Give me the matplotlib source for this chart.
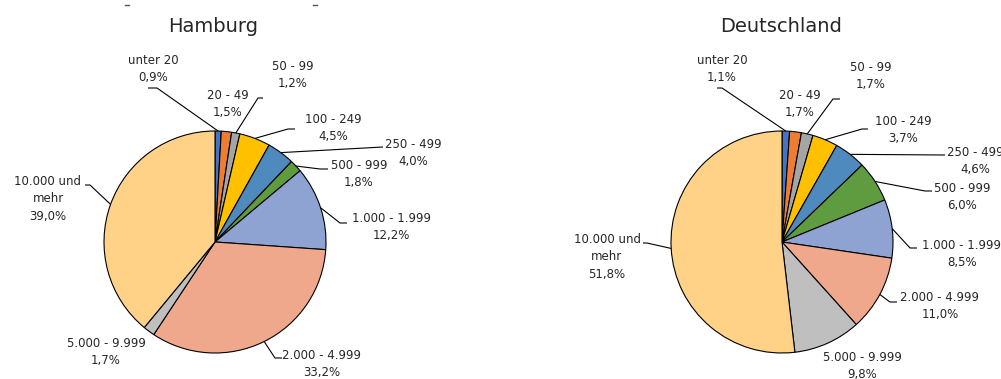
import numpy as np
import matplotlib
matplotlib.use("Agg")
import matplotlib.pyplot as plt

W, H = 1001, 379

categories = ["unter 20", "20 - 49", "50 - 99", "100 - 249", "250 - 499", "500 - 999",
              "1.000 - 1.999", "2.000 - 4.999", "5.000 - 9.999", "10.000 und\nmehr"]
hamburg = [0.9, 1.5, 1.2, 4.5, 4.0, 1.8, 12.2, 33.2, 1.7, 39.0]
deutschland = [1.1, 1.7, 1.7, 3.7, 4.6, 6.0, 8.5, 11.0, 9.8, 51.8]

colors = ["#4472C4", "#ED7D31", "#A5A5A5", "#FFC000", "#4E8ABE", "#5F9B3F",
          "#8FA3D3", "#F0A88C", "#BFBFBF", "#FFD287"]

# layout in pixel coords (y from top): label centre, leader (x_text_end, x_elbow, y) or None
hh_layout = dict(
    center=(215, 242), radius=111, title=(213, 27),
    labels=[(153, 69), (228, 104), (293, 75), (333, 128), (413, 153), (359, 174),
            (391, 227), (322, 364), (106, 352), (48, 199)],
    leaders=[(148, 157, 88), None, (263, 258, 98), (295, 288, 129), (383, 383, 147),
             (328, 320, 169), (347, 340, 223), (282, 275, 358), None, (85, 90, 185)],
)
de_layout = dict(
    center=(782, 242), radius=111, title=(781, 27),
    labels=[(722, 69), (800, 104), (871, 76), (903, 130), (975, 161), (962, 197),
            (962, 254), (940, 306), (862, 366), (607, 257)],
    leaders=[(717, 722, 88), None, (840, 833, 99), (868, 862, 129), (945, 945, 155),
             (932, 925, 191), (917, 910, 248), (897, 890, 302), None, (643, 647, 243)],
)

plt.rcParams["font.family"] = ["DejaVu Sans"]
text_color = "#262626"

fig = plt.figure(figsize=(W / 100, H / 100), dpi=100)
ax = fig.add_axes([0, 0, 1, 1])


def fmt(v):
    return f"{v:.1f}".replace(".", ",") + "%"


def draw_pie(values, lay, title):
    cx, cy = lay["center"]
    r = lay["radius"]
    ax.pie(values, center=(cx, H - cy), radius=r, startangle=90, counterclock=False,
           colors=colors, wedgeprops=dict(edgecolor="black", linewidth=0.8))
    ax.text(lay["title"][0], H - lay["title"][1], title, ha="center", va="center",
            fontsize=14, color=text_color)

    total = sum(values)
    cum = np.cumsum([0] + list(values))
    for i, v in enumerate(values):
        lx, ly = lay["labels"][i]
        ax.text(lx, H - ly, f"{categories[i]}\n{fmt(v)}", ha="center", va="center",
                fontsize=8.5, color=text_color, linespacing=1.45)
        leader = lay["leaders"][i]
        if leader is None:
            continue
        theta = np.deg2rad(90 - 360 * (cum[i] + v / 2) / total)
        ex, ey = cx + r * np.cos(theta), H - cy + r * np.sin(theta)
        x1, x2, y = leader
        ax.plot([x1, x2, ex], [H - y, H - y, ey], color="black", linewidth=0.8,
                solid_capstyle="butt")


draw_pie(hamburg, hh_layout, "Hamburg")
draw_pie(deutschland, de_layout, "Deutschland")

# small marks left over at the top edge of the source image
for x in (127, 315):
    ax.plot([x - 2, x + 2], [H - 5, H - 5], color="#555555", linewidth=1)

ax.set_xlim(0, W)
ax.set_ylim(0, H)
ax.set_aspect("equal")
ax.axis("off")

fig.savefig("out.png", dpi=100)
